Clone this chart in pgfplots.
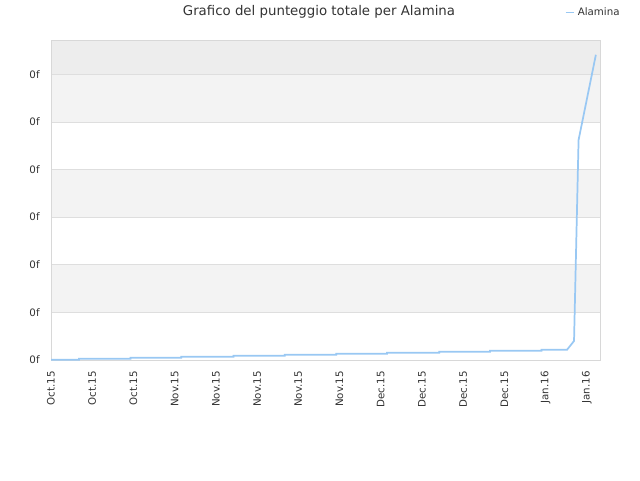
\documentclass[border=0pt]{standalone}
\usepackage{fontspec}
\setmainfont{DejaVu Sans}
\usepackage{pgfplots}
\pgfplotsset{compat=1.18}
\definecolor{linecol}{HTML}{99C8F3}
\definecolor{bandgray}{HTML}{F3F3F3}
\definecolor{topgray}{HTML}{EDEDED}
\definecolor{gridcol}{HTML}{DEDEDE}
\definecolor{framecol}{HTML}{D8D8D8}
\definecolor{txt}{HTML}{333333}
\begin{document}
\begin{tikzpicture}
\begin{axis}[
  at={(38.25pt,90pt)}, anchor=south west,
  scale only axis, width=411.75pt, height=240pt,
  set layers,
  xmin=0, xmax=13.32, ymin=0, ymax=6.72,
  xtick={0,...,13},
  xticklabels={Oct.15,Oct.15,Oct.15,Nov.15,Nov.15,Nov.15,Nov.15,Nov.15,Dec.15,Dec.15,Dec.15,Dec.15,Jan.16,Jan.16},
  ytick={0,...,6},
  yticklabels={0f,0f,0f,0f,0f,0f,0f},
  major tick length=0pt,
  ymajorgrids, grid style={gridcol, line width=0.6pt},
  axis line style={framecol, line width=0.6pt},
  tick label style={text=txt, font=\fontsize{7.7pt}{8pt}\selectfont},
  xticklabel style={rotate=90, anchor=east},
  xtick pos=bottom, ytick pos=left,
  x tick label style={xshift=-5pt},
  y tick label style={xshift=-5pt},
  legend style={at={(1.041,1.086)}, anchor=east, draw=none, fill=none,
    font=\fontsize{7.7pt}{8pt}\selectfont, text=txt, inner sep=0pt},
  legend image code/.code={\draw[#1] (0pt,0pt) -- (6.5pt,0pt);},
]
\begin{pgfonlayer}{axis background}
\fill[bandgray] (axis cs:0,1) rectangle (axis cs:13.32,2);
\fill[bandgray] (axis cs:0,3) rectangle (axis cs:13.32,4);
\fill[bandgray] (axis cs:0,5) rectangle (axis cs:13.32,6);
\fill[topgray] (axis cs:0,6) rectangle (axis cs:13.32,6.72);
\end{pgfonlayer}
\addplot[linecol, line width=1.3pt] coordinates {
(0,0.006) (0.68,0.006) (0.68,0.027) (1.93,0.027) (1.93,0.048) (3.16,0.048)
(3.16,0.069) (4.43,0.069) (4.43,0.090) (5.67,0.090) (5.67,0.111) (6.92,0.111)
(6.92,0.132) (8.15,0.132) (8.15,0.153) (9.42,0.153) (9.42,0.174) (10.65,0.174)
(10.65,0.195) (11.90,0.195) (11.90,0.215) (12.52,0.215) (12.69,0.40)
(12.80,4.62) (13.22,6.41)
};
\addlegendentry{Alamina}
\end{axis}
\node[text=txt,font=\fontsize{10pt}{11pt}\selectfont] at (239.25pt,351pt) {Grafico del punteggio totale per Alamina};
\path (0pt,0pt) rectangle (480pt,360pt);
\end{tikzpicture}
\end{document}
